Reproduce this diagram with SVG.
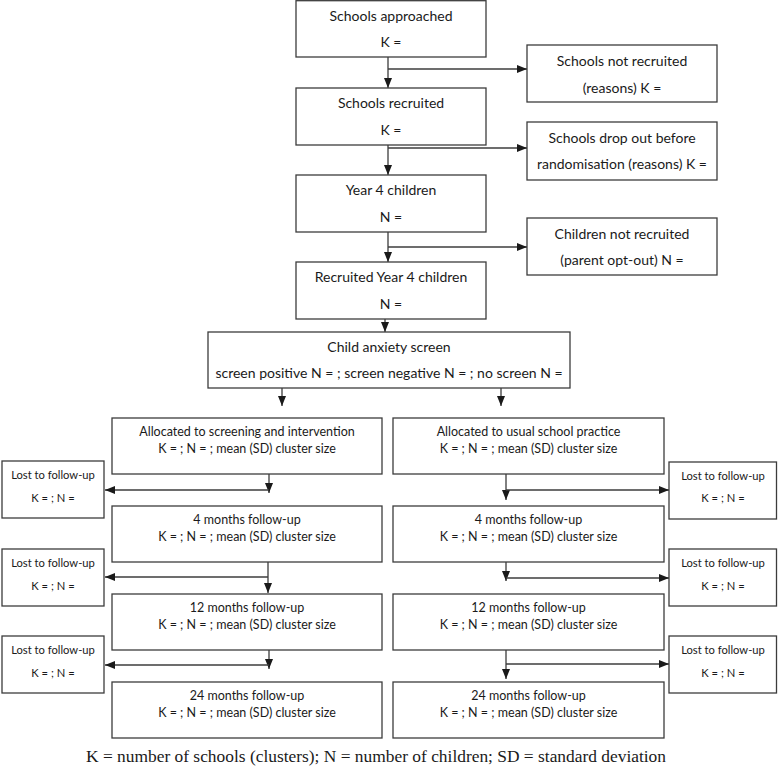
<svg xmlns="http://www.w3.org/2000/svg" width="778" height="772" viewBox="0 0 778 772">
<style>
.box{fill:#fff;stroke:#3c3c3c;stroke-width:1.3}
.t{font-family:Lato,"Liberation Sans",sans-serif;font-size:14px;fill:#1a1a1a;text-anchor:middle}
.s{font-size:12.5px}
.l{font-size:11.2px}
.c{fill:none;stroke:#3c3c3c;stroke-width:1.3}
.fn{font-family:"Liberation Serif",serif;font-size:17.4px;fill:#1a1a1a}
</style>
<defs>
<marker id="ah" markerUnits="userSpaceOnUse" markerWidth="10" markerHeight="10" viewBox="0 0 10 10" refX="10" refY="5" orient="auto">
<path d="M0,1 L10,5 L0,9 Z" fill="#1a1a1a"/>
</marker>
</defs>
<rect width="778" height="772" fill="#fff"/>
<g id="connectors">
<path class="c" d="M388,57 V88" marker-end="url(#ah)"/>
<path class="c" d="M388,69 H527" marker-end="url(#ah)"/>
<path class="c" d="M388,145 V175" marker-end="url(#ah)"/>
<path class="c" d="M388,148 H527" marker-end="url(#ah)"/>
<path class="c" d="M388,232 V262" marker-end="url(#ah)"/>
<path class="c" d="M388,247 H527" marker-end="url(#ah)"/>
<path class="c" d="M385,308 V332" marker-end="url(#ah)"/>
<path class="c" d="M282,388 V406" marker-end="url(#ah)"/>
<path class="c" d="M501,388 V406" marker-end="url(#ah)"/>
<path class="c" d="M269,463 V493" marker-end="url(#ah)"/>
<path class="c" d="M269,490 H105" marker-end="url(#ah)"/>
<path class="c" d="M268,562 V593" marker-end="url(#ah)"/>
<path class="c" d="M268,577 H105" marker-end="url(#ah)"/>
<path class="c" d="M269,640 V669" marker-end="url(#ah)"/>
<path class="c" d="M269,665 H105" marker-end="url(#ah)"/>
<path class="c" d="M506,474 V500" marker-end="url(#ah)"/>
<path class="c" d="M506,490 H669" marker-end="url(#ah)"/>
<path class="c" d="M506,553 V581" marker-end="url(#ah)"/>
<path class="c" d="M506,578 H669" marker-end="url(#ah)"/>
<path class="c" d="M506,650 V679" marker-end="url(#ah)"/>
<path class="c" d="M506,664 H669" marker-end="url(#ah)"/>
</g>
<g id="n-approached"><rect class="box" x="296" y="0.7" width="190" height="56.3"/><text class="t" x="391" y="21">Schools approached</text><text class="t" x="391" y="47">K =</text></g>
<g id="n-notrecruited"><rect class="box" x="527" y="45" width="190" height="57"/><text class="t" x="622" y="66">Schools not recruited</text><text class="t" x="622" y="93">(reasons) K =</text></g>
<g id="n-recruited"><rect class="box" x="296" y="88" width="190" height="57"/><text class="t" x="391" y="108">Schools recruited</text><text class="t" x="391" y="135">K =</text></g>
<g id="n-dropout"><rect class="box" x="527" y="122" width="190" height="58"/><text class="t" x="622" y="143">Schools drop out before</text><text class="t" x="622" y="169">randomisation (reasons) K =</text></g>
<g id="n-year4"><rect class="box" x="296" y="175" width="190" height="57"/><text class="t" x="391" y="195">Year 4 children</text><text class="t" x="391" y="222">N =</text></g>
<g id="n-childnot"><rect class="box" x="527" y="218" width="190" height="57"/><text class="t" x="622" y="239">Children not recruited</text><text class="t" x="622" y="265">(parent opt-out) N =</text></g>
<g id="n-recyear4"><rect class="box" x="296" y="262" width="190" height="57"/><text class="t" x="391" y="282">Recruited Year 4 children</text><text class="t" x="391" y="309">N =</text></g>
<g id="n-anxiety"><rect class="box" x="208" y="332" width="362" height="56"/><text class="t" x="389" y="352">Child anxiety screen</text><text class="t" x="389" y="378">screen positive N = ; screen negative N = ; no screen N =</text></g>
<g id="n-alloc-int"><rect class="box" x="112" y="418" width="270" height="56"/><text class="t s" x="247" y="436">Allocated to screening and intervention</text><text class="t s" x="247" y="453">K = ; N = ; mean (SD) cluster size</text></g>
<g id="n-alloc-usual"><rect class="box" x="393" y="418" width="271" height="56"/><text class="t s" x="528.5" y="436">Allocated to usual school practice</text><text class="t s" x="528.5" y="453">K = ; N = ; mean (SD) cluster size</text></g>
<g id="n-int-4"><rect class="box" x="112" y="506" width="270" height="56"/><text class="t s" x="247" y="524">4 months follow-up</text><text class="t s" x="247" y="541">K = ; N = ; mean (SD) cluster size</text></g>
<g id="n-usual-4"><rect class="box" x="393" y="506" width="271" height="56"/><text class="t s" x="528.5" y="524">4 months follow-up</text><text class="t s" x="528.5" y="541">K = ; N = ; mean (SD) cluster size</text></g>
<g id="n-int-12"><rect class="box" x="112" y="594" width="270" height="56"/><text class="t s" x="247" y="612">12 months follow-up</text><text class="t s" x="247" y="629">K = ; N = ; mean (SD) cluster size</text></g>
<g id="n-usual-12"><rect class="box" x="393" y="594" width="271" height="56"/><text class="t s" x="528.5" y="612">12 months follow-up</text><text class="t s" x="528.5" y="629">K = ; N = ; mean (SD) cluster size</text></g>
<g id="n-int-24"><rect class="box" x="112" y="682" width="270" height="56"/><text class="t s" x="247" y="700">24 months follow-up</text><text class="t s" x="247" y="717">K = ; N = ; mean (SD) cluster size</text></g>
<g id="n-usual-24"><rect class="box" x="393" y="682" width="271" height="56"/><text class="t s" x="528.5" y="700">24 months follow-up</text><text class="t s" x="528.5" y="717">K = ; N = ; mean (SD) cluster size</text></g>
<g id="n-lost-l1"><rect class="box" x="2" y="461" width="102" height="57"/><text class="t l" x="53" y="479">Lost to follow-up</text><text class="t l" x="53" y="502">K = ; N =</text></g>
<g id="n-lost-l2"><rect class="box" x="2" y="549" width="102" height="57"/><text class="t l" x="53" y="567">Lost to follow-up</text><text class="t l" x="53" y="590">K = ; N =</text></g>
<g id="n-lost-l3"><rect class="box" x="2" y="636" width="102" height="57"/><text class="t l" x="53" y="654">Lost to follow-up</text><text class="t l" x="53" y="677">K = ; N =</text></g>
<g id="n-lost-r1"><rect class="box" x="669" y="462" width="107.5" height="57"/><text class="t l" x="723" y="480">Lost to follow-up</text><text class="t l" x="723" y="502">K = ; N =</text></g>
<g id="n-lost-r2"><rect class="box" x="669" y="549" width="107.5" height="57"/><text class="t l" x="723" y="567">Lost to follow-up</text><text class="t l" x="723" y="590">K = ; N =</text></g>
<g id="n-lost-r3"><rect class="box" x="669" y="636" width="107.5" height="57"/><text class="t l" x="723" y="654">Lost to follow-up</text><text class="t l" x="723" y="677">K = ; N =</text></g>
<text class="fn" x="86" y="762">K = number of schools (clusters); N = number of children; SD = standard deviation</text>
</svg>
